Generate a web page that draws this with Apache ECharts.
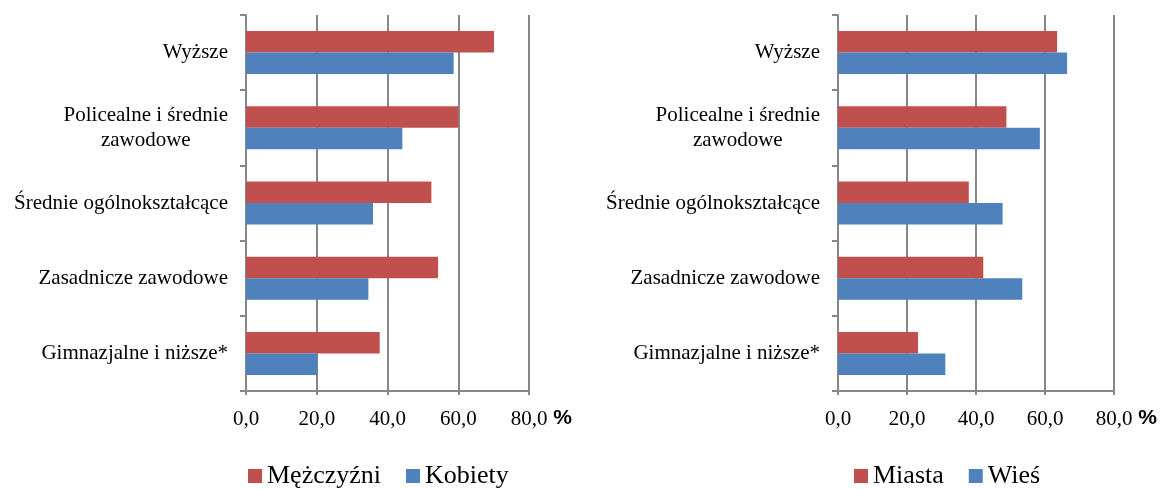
<!DOCTYPE html>
<html>
<head>
<meta charset="utf-8">
<script src="https://cdn.jsdelivr.net/npm/echarts@6/dist/echarts.min.js"></script>
<style>
  html, body { margin: 0; padding: 0; background: #fff; }
  #chart { width: 1160px; height: 489px; }
</style>
</head>
<body>
<div id="chart"></div>
<script>
// poziom wykształcenia (od góry)
var categories = [
  'Wyższe',
  'Policealne i średnie\nzawodowe',
  'Średnie ogólnokształcące',
  'Zasadnicze zawodowe',
  'Gimnazjalne i niższe*'
]
var xTicks = [0, 20, 40, 60, 80]

// lewy wykres - płeć
var men = [70.1, 60.0, 52.4, 54.3, 37.8]
var women = [58.7, 44.2, 35.9, 34.6, 20.2]

// prawy wykres - miejsce zamieszkania
var city = [63.5, 48.8, 37.9, 42.1, 23.2]
var village = [66.4, 58.5, 47.7, 53.4, 31.1]

var RED = '#C0504D'
var BLUE = '#4F81BD'
var GRAY = '#878787'
var FONT = 'Liberation Serif'

function xAxisOf(gridIndex) {
  return {
    gridIndex: gridIndex,
    type: 'value',
    min: xTicks[0],
    max: xTicks[xTicks.length - 1],
    interval: xTicks[1] - xTicks[0],
    name: '%',
    nameLocation: 'end',
    nameGap: 22,
    nameTextStyle: {
      fontFamily: 'Liberation Sans',
      fontWeight: 'bold',
      fontSize: 21,
      color: '#000',
      verticalAlign: 'top',
      padding: [17, 0, 0, 0]
    },
    axisLine: { show: true, lineStyle: { color: GRAY, width: 2 } },
    axisTick: { show: true, length: 4, lineStyle: { color: GRAY, width: 2 } },
    splitLine: { show: true, lineStyle: { color: GRAY, width: 2 } },
    axisLabel: {
      margin: 18,
      fontFamily: FONT,
      fontSize: 21,
      color: '#000',
      formatter: function(v) {
        return v.toFixed(1).replace('.', ',')
      }
    }
  }
}

function yAxisOf(gridIndex) {
  return {
    gridIndex: gridIndex,
    type: 'category',
    data: categories,
    inverse: true,
    axisLine: { show: true, lineStyle: { color: GRAY, width: 2 } },
    axisTick: { show: true, length: 6, lineStyle: { color: GRAY, width: 2 } },
    splitLine: { show: false },
    axisLabel: {
      margin: 18,
      fontFamily: FONT,
      fontSize: 21,
      color: '#000',
      lineHeight: 25,
      formatter: function(v) {
        if (v.indexOf('\n') < 0) {
          return v
        }
        return v.split('\n').map(function(s) {
          return '{c|' + s + '}'
        }).join('\n')
      },
      rich: {
        c: {
          align: 'center',
          fontFamily: FONT,
          fontSize: 21,
          lineHeight: 25,
          color: '#000'
        }
      }
    }
  }
}

function barSeries(name, data, color, axisIndex) {
  return {
    name: name,
    type: 'bar',
    xAxisIndex: axisIndex,
    yAxisIndex: axisIndex,
    data: data,
    barWidth: 21.5,
    barGap: '0%',
    itemStyle: { color: color },
    animation: false
  }
}

var chart = echarts.init(document.getElementById('chart'))

chart.setOption({
  animation: false,
  grid: [
    { left: 246, top: 15, width: 283, height: 376 },
    { left: 838, top: 15, width: 278, height: 376 }
  ],
  legend: [
    {
      data: ['Mężczyźni', 'Kobiety'],
      left: 248,
      top: 463,
      padding: 0,
      itemWidth: 14,
      itemHeight: 14,
      itemGap: 25,
      icon: 'rect',
      textStyle: { fontFamily: FONT, fontSize: 26, color: '#000' }
    },
    {
      data: ['Miasta', 'Wieś'],
      left: 854,
      top: 463,
      padding: 0,
      itemWidth: 14,
      itemHeight: 14,
      itemGap: 25,
      icon: 'rect',
      textStyle: { fontFamily: FONT, fontSize: 26, color: '#000' }
    }
  ],
  xAxis: [xAxisOf(0), xAxisOf(1)],
  yAxis: [yAxisOf(0), yAxisOf(1)],
  series: [
    barSeries('Mężczyźni', men, RED, 0),
    barSeries('Kobiety', women, BLUE, 0),
    barSeries('Miasta', city, RED, 1),
    barSeries('Wieś', village, BLUE, 1)
  ]
})
</script>
</body>
</html>
